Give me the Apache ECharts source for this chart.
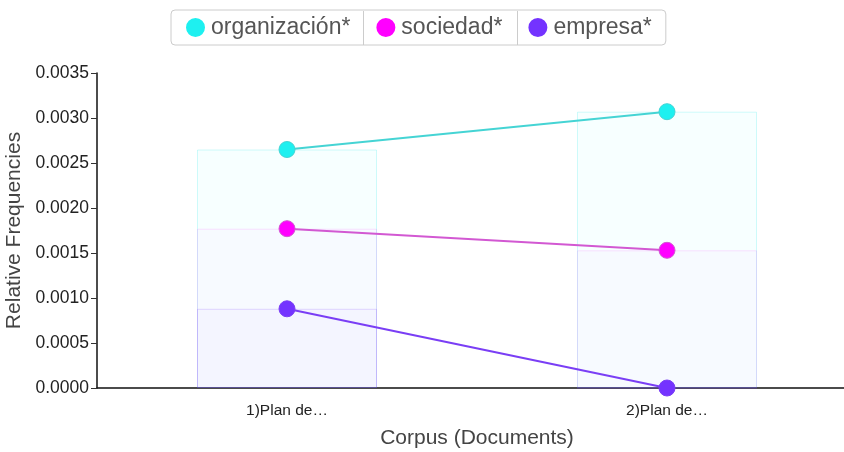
<!DOCTYPE html>
<html>
<head>
<meta charset="utf-8">
<title>Relative Frequencies</title>
<script src="https://cdn.jsdelivr.net/npm/echarts@6/dist/echarts.min.js"></script>
<style>
	html, body { margin: 0; padding: 0; background: #fff; }
	#chart { width: 844px; height: 452px; }
</style>
</head>
<body>
<div id="chart"></div>
<script>
// categorias (documentos)
var docs = ['1)Plan de…', '2)Plan de…'];
// terminos de la leyenda
var terms = ['organización*', 'sociedad*', 'empresa*'];
// frecuencias relativas por termino
var organizacion = [0.00265, 0.00307];
var sociedad = [0.00177, 0.00153];
var empresa = [0.00088, 0];
// marcas del eje y
var yTicks = [0, 0.0005, 0.001, 0.0015, 0.002, 0.0025, 0.003, 0.0035];

var values = [organizacion, sociedad, empresa];
var dotColors = ['#1ef0f0', '#ff00ff', '#7433ff'];
var lineColors = ['#45d4d4', '#d258d2', '#7a3ef5'];
var barFill = ['rgba(0,255,255,0.03)', 'rgba(255,0,255,0.02)', 'rgba(116,51,255,0.025)'];
var barLine = ['rgba(0,230,230,0.18)', 'rgba(255,0,255,0.12)', 'rgba(116,51,255,0.18)'];

var chart = echarts.init(document.getElementById('chart'));

var series = [];
// barras transparentes superpuestas
terms.forEach(function(name, i){
	series.push({
		name: name,
		type: 'bar',
		data: values[i],
		barWidth: 180,
		barGap: '-100%',
		silent: true,
		z: 1,
		itemStyle: {
			color: barFill[i],
			borderColor: barLine[i],
			borderWidth: 1
		}
	});
});
// lineas con puntos
terms.forEach(function(name, i){
	series.push({
		name: name,
		type: 'line',
		data: values[i],
		symbol: 'circle',
		symbolSize: 16,
		z: 5,
		lineStyle: { color: lineColors[i], width: 2 },
		itemStyle: { color: dotColors[i], borderColor: lineColors[i], borderWidth: 1 }
	});
});

var option = {
	backgroundColor: '#fff',
	animation: false,
	textStyle: { fontFamily: 'Liberation Sans, Arial, sans-serif' },
	legend: {
		data: terms.map(function(t, i){
			return { name: t, itemStyle: { color: dotColors[i], borderColor: dotColors[i] } };
		}),
		left: 171,
		top: 10,
		icon: 'circle',
		itemWidth: 21,
		itemHeight: 17,
		itemGap: 26,
		padding: [6, 14, 6, 15],
		borderColor: '#cccccc',
		borderWidth: 1,
		borderRadius: 4,
		textStyle: { fontSize: 23, color: '#555' }
	},
	grid: {
		left: 97,
		top: 73,
		width: 760,
		height: 315,
		containLabel: false,
		outerBoundsMode: 'none'
	},
	xAxis: {
		type: 'category',
		data: docs,
		name: 'Corpus (Documents)',
		nameLocation: 'middle',
		nameGap: 40,
		nameTextStyle: { fontSize: 21, color: '#444' },
		axisLine: { lineStyle: { color: '#111', width: 1.5 } },
		axisTick: { alignWithLabel: true, length: 6, lineStyle: { color: '#333' } },
		axisLabel: { fontSize: 15.5, color: '#222', margin: 15 }
	},
	yAxis: {
		type: 'value',
		min: yTicks[0],
		max: yTicks[yTicks.length - 1],
		interval: 0.0005,
		name: 'Relative Frequencies',
		nameLocation: 'middle',
		nameGap: 65,
		nameTextStyle: { fontSize: 21, color: '#444' },
		splitLine: { show: false },
		axisLine: { show: true, lineStyle: { color: '#111', width: 1.5 } },
		axisTick: { show: true, length: 6, lineStyle: { color: '#333' } },
		axisLabel: {
			fontSize: 17.5,
			color: '#222',
			margin: 8,
			formatter: function(v){ return v.toFixed(4); }
		}
	},
	// separadores de la leyenda
	graphic: [
		{ type: 'line', shape: { x1: 363.5, y1: 11, x2: 363.5, y2: 45 }, style: { stroke: '#ccc', lineWidth: 1 } },
		{ type: 'line', shape: { x1: 517.5, y1: 11, x2: 517.5, y2: 45 }, style: { stroke: '#ccc', lineWidth: 1 } }
	],
	series: series
};

chart.setOption(option);
</script>
</body>
</html>
